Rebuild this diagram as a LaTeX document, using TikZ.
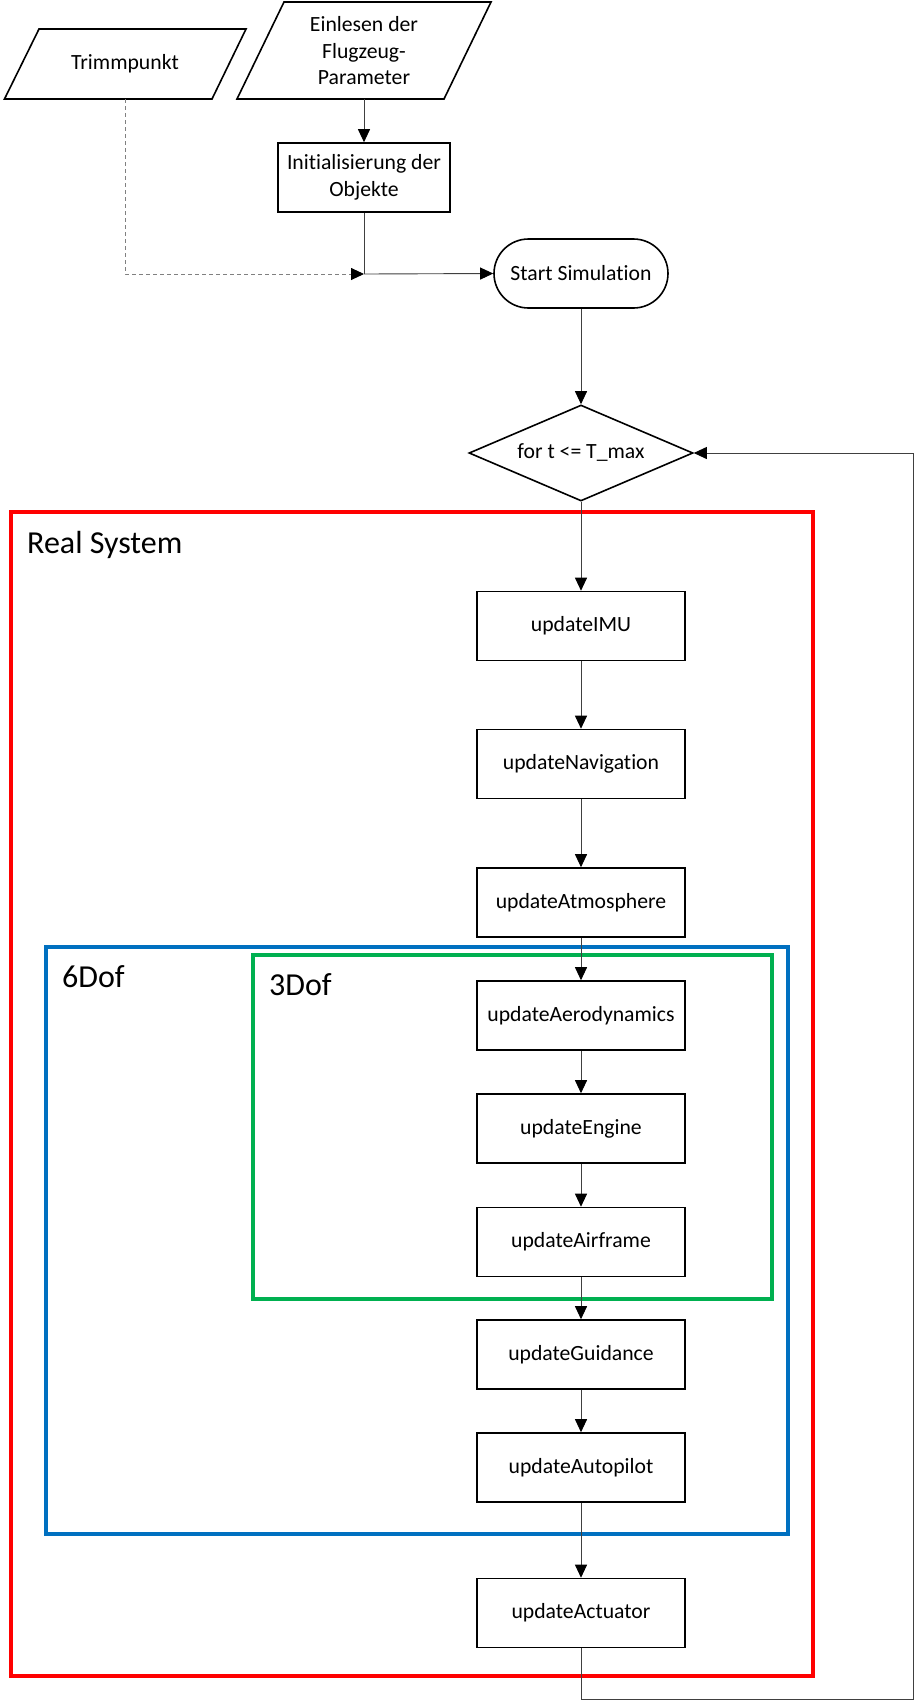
\documentclass[tikz,border=0pt]{standalone}
\usepackage{fontspec}
\setmainfont{Carlito}[Ligatures=NoCommon]
\usetikzlibrary{arrows.meta,shapes.geometric}
\definecolor{frred}{HTML}{FF0000}
\definecolor{frblue}{HTML}{0070C0}
\definecolor{frgreen}{HTML}{00B050}
\definecolor{conn}{HTML}{404040}
\tikzset{
  boxtext/.style={font=\fontsize{21.7}{26.5}\selectfont, text=black, align=center},
  procbox/.style={boxtext, draw=black, line width=1.6pt, minimum width=208pt, minimum height=69pt, inner sep=0pt},
  conarrow/.style={draw=conn, line width=0.9pt, -{Triangle[length=13pt,width=12pt,fill=black,color=black]}},
  conline/.style={draw=conn, line width=0.9pt},
  frametext/.style={font=\fontsize{32}{38}\selectfont, anchor=base west, inner sep=0pt},
  shapeline/.style={draw=black, line width=1.6pt}
}
\begin{document}
\begin{tikzpicture}[x=1pt,y=-1pt]
\useasboundingbox (0,0) rectangle (917,1701);
\fill[white] (0,0) rectangle (917,1701);

% frames
\draw[frred, line width=4pt] (11,512) rectangle (813,1676);
\node[frametext] (lblreal) at (27,553) {Real System};
\draw[frblue, line width=3.5pt] (46,947) rectangle (788,1534);
\node[frametext] (lbl6) at (62,987) {6Dof};
\draw[frgreen, line width=3.5pt] (253,955) rectangle (772,1299);
\node[frametext] (lbl3) at (269,995) {3Dof};

% input parallelograms
\draw[shapeline] (39,29) -- (246,29) -- (212,99) -- (4.5,99) -- cycle;
\node[boxtext] (trimm) at (125,64) {Trimmpunkt};
\coordinate (trimmb) at (125,99);
\draw[shapeline] (284,2) -- (491,2) -- (444,99) -- (237,99) -- cycle;
\node[boxtext] (einl) at (364,51) {Einlesen der\\Flugzeug-\\Parameter};
\coordinate (einlb) at (364,99);

% init
\node[procbox, minimum width=172pt] (init) at (364,177.5) {Initialisierung der\\Objekte};

% start
\node[boxtext, draw=black, line width=1.6pt, minimum width=174pt, minimum height=69pt, rounded corners=34.5pt, inner sep=0pt] (start) at (581,273.5) {Start Simulation};

% diamond
\node[boxtext, draw=black, line width=1.6pt, shape=diamond, aspect=2.33, inner sep=0pt, minimum width=224pt, minimum height=96pt] (loop) at (581,453) {for t <= T\_max};

% process boxes
\node[procbox] (imu) at (581,626) {updateIMU};
\node[procbox] (nav) at (581,764) {updateNavigation};
\node[procbox] (atm) at (581,902.5) {updateAtmosphere};
\node[procbox] (aero) at (581,1015.5) {updateAerodynamics};
\node[procbox] (eng) at (581,1128.5) {updateEngine};
\node[procbox] (air) at (581,1242) {updateAirframe};
\node[procbox] (gui) at (581,1354.5) {updateGuidance};
\node[procbox] (auto) at (581,1467.5) {updateAutopilot};
\node[procbox] (act) at (581,1613) {updateActuator};

% connectors
\coordinate (junc) at (364,274);
\coordinate (trimmc) at (125,274);
\draw[conarrow] (einlb) -- (init.north);
\draw[conline] (init.south) -- (junc);
\draw[conarrow] (junc) -- (start.west);
\draw[conarrow, draw=gray, dash pattern=on 4pt off 3pt] (trimmb) -- (trimmc) -- (junc);
\draw[conarrow] (start.south) -- (loop.north);
\draw[conarrow] (loop.south) -- (imu.north);
\draw[conarrow] (imu.south) -- (nav.north);
\draw[conarrow] (nav.south) -- (atm.north);
\draw[conarrow] (atm.south) -- (aero.north);
\draw[conarrow] (aero.south) -- (eng.north);
\draw[conarrow] (eng.south) -- (air.north);
\draw[conarrow] (air.south) -- (gui.north);
\draw[conarrow] (gui.south) -- (auto.north);
\draw[conarrow] (auto.south) -- (act.north);
\coordinate (fb1) at (581,1699);
\coordinate (fb2) at (913,1699);
\coordinate (fb3) at (913,453);
\draw[conarrow] (act.south) -- (fb1) -- (fb2) -- (fb3) -- (loop.east);
\end{tikzpicture}
\end{document}
